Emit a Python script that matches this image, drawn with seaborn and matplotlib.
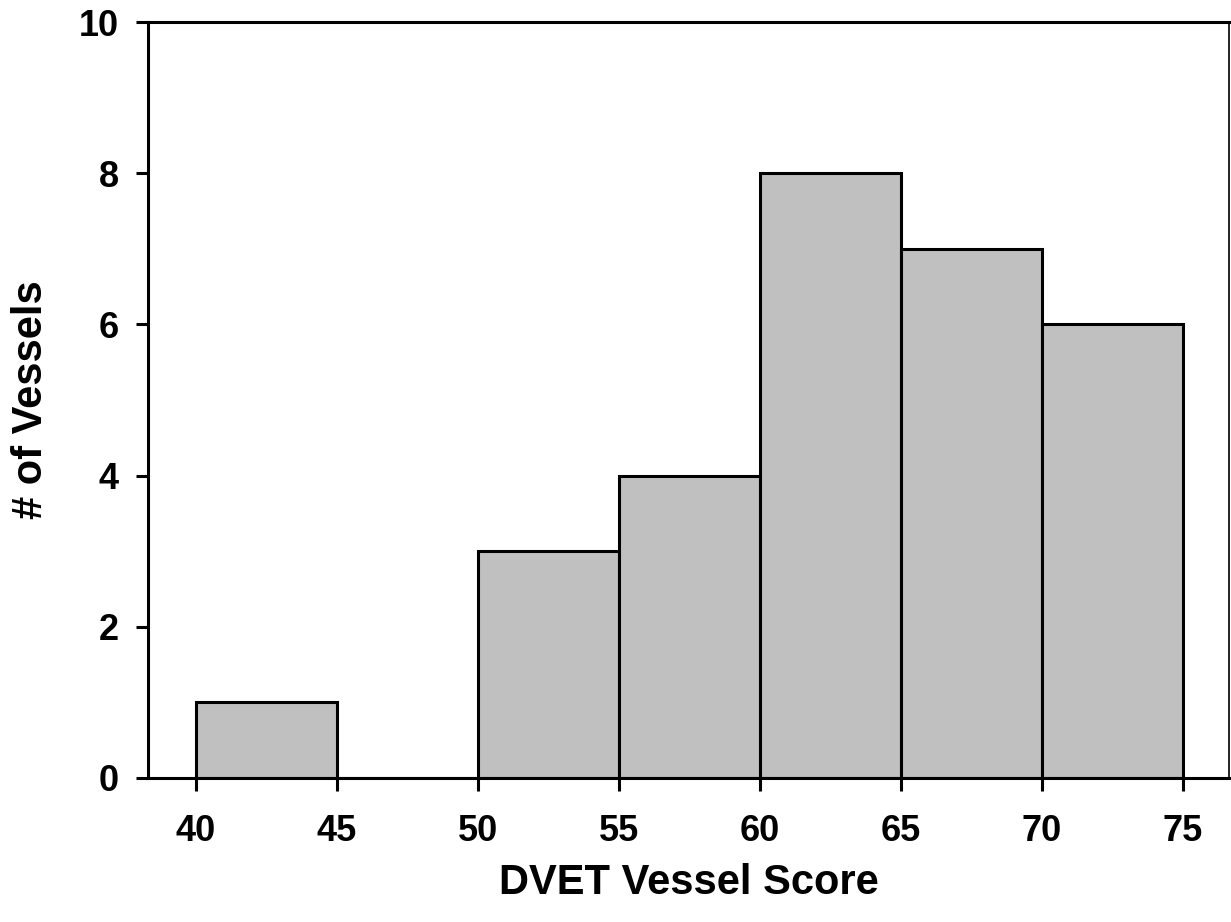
import numpy as np
import pandas as pd
import matplotlib
matplotlib.use("Agg")
import matplotlib.pyplot as plt
import seaborn as sns

# Histogram data
bin_edges = [40, 45, 50, 55, 60, 65, 70, 75]
bin_centers = [42.5, 47.5, 52.5, 57.5, 62.5, 67.5, 72.5]
vessel_counts = [1, 0, 3, 4, 8, 7, 6]
x_ticks = [40, 45, 50, 55, 60, 65, 70, 75]
y_ticks = [0, 2, 4, 6, 8, 10]

df = pd.DataFrame({"score": bin_centers, "count": vessel_counts})

sns.set_style("white")
plt.rcParams['font.family'] = ['Liberation Sans', 'DejaVu Sans']
plt.rcParams['font.weight'] = 'bold'
plt.rcParams['text.color'] = 'black'
plt.rcParams['axes.labelcolor'] = 'black'
plt.rcParams['xtick.color'] = 'black'
plt.rcParams['ytick.color'] = 'black'

fig = plt.figure(figsize=(12.31, 9.22), dpi=100)
ax = fig.add_axes([0.1202, 0.1562, 0.8782, 0.8198])

sns.histplot(data=df, x="score", weights="count", bins=bin_edges,
             color="#c0c0c0", edgecolor="black", linewidth=2.2,
             alpha=1, ax=ax)

ax.set_xlim(38.3, 76.65)
ax.set_ylim(0, 10)
ax.set_xticks(x_ticks)
ax.set_yticks(y_ticks)
ax.tick_params(axis="both", direction="out", length=9, width=2.2,
               labelsize=26, color="black", labelcolor="black",
               bottom=True, left=True)
ax.tick_params(axis="x", pad=17)
ax.tick_params(axis="y", pad=12)
for lab in ax.get_xticklabels() + ax.get_yticklabels():
    lab.set_fontweight("bold")

ax.set_xlabel("DVET Vessel Score", fontsize=30, fontweight="bold", labelpad=10)
ax.set_ylabel("# of Vessels", fontsize=30, fontweight="bold", labelpad=20)

for side in ["left", "top", "bottom"]:
    ax.spines[side].set_linewidth(2.2)
    ax.spines[side].set_color("black")
ax.spines["right"].set_linewidth(1.2)
ax.spines["right"].set_color("black")

fig.savefig("out.png", dpi=100)
